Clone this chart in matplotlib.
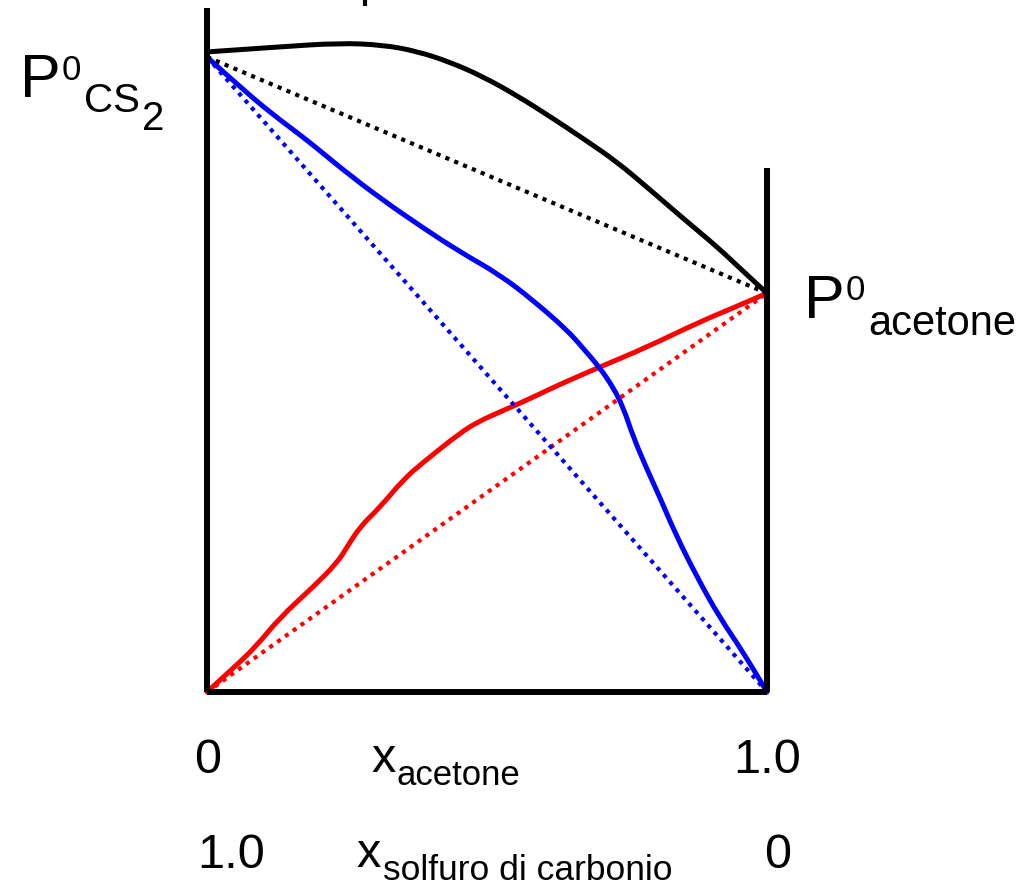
import matplotlib
matplotlib.use("Agg")
import matplotlib.pyplot as plt
from matplotlib.path import Path
from matplotlib.patches import PathPatch

plt.rcParams['font.family'] = ['Liberation Sans', 'DejaVu Sans']

# vapour pressures of the pure liquids (P0_CS2 taken as 1)
P_CS2 = 1.0
P_ACETONE = 0.628

# mole fraction of acetone
x_total = [0.0, 0.13, 0.237, 0.314, 0.375, 0.434, 0.493, 0.554, 0.613, 0.671, 0.732, 0.791, 0.85, 0.911, 0.952, 1.0]
p_total = [1.008, 1.016, 1.022, 1.019, 1.009, 0.992, 0.969, 0.939, 0.906, 0.872, 0.835, 0.791, 0.746, 0.701, 0.667, 0.628]

x_cs2 = [0.0, 0.071, 0.13, 0.179, 0.239, 0.31, 0.384, 0.45, 0.523, 0.582, 0.643, 0.671, 0.702, 0.725, 0.743, 0.761, 0.786, 0.809, 0.836, 0.875, 0.915, 0.955, 1.0]
p_cs2 = [1.0, 0.943, 0.901, 0.869, 0.825, 0.777, 0.732, 0.694, 0.657, 0.617, 0.570, 0.542, 0.510, 0.480, 0.449, 0.402, 0.350, 0.306, 0.250, 0.181, 0.118, 0.066, 0.0]

x_acet = [0.0, 0.045, 0.087, 0.13, 0.189, 0.232, 0.25, 0.273, 0.309, 0.35, 0.385, 0.452, 0.485, 0.523, 0.567, 0.617, 0.66, 0.702, 0.783, 0.88, 0.94, 1.0]
p_acet = [0.0, 0.036, 0.071, 0.117, 0.165, 0.203, 0.228, 0.260, 0.291, 0.334, 0.361, 0.408, 0.426, 0.441, 0.458, 0.479, 0.496, 0.512, 0.542, 0.583, 0.605, 0.628]

W, H = 1027, 886
fig = plt.figure(figsize=(W / 100, H / 100), dpi=100)
ax = fig.add_axes([207 / W, (H - 692) / H, 560 / W, 692 / H])
ax.set_xlim(0, 1)
ax.set_ylim(0, 692 / 635)
ax.axis('off')

dot = (0, (1, 1.3))


def smooth_curve(xs, ys, color):
    # quadratic b-spline through the read points, drawn as one path
    verts = [(xs[0], ys[0])]
    codes = [Path.MOVETO]
    for i in range(1, len(xs) - 1):
        verts.append((xs[i], ys[i]))
        verts.append(((xs[i] + xs[i + 1]) / 2, (ys[i] + ys[i + 1]) / 2))
        codes += [Path.CURVE3, Path.CURVE3]
    verts.append((xs[-1], ys[-1]))
    codes.append(Path.LINETO)
    patch = PathPatch(Path(verts, codes), facecolor='none', edgecolor=color,
                      lw=3.6, clip_on=False, capstyle='round', joinstyle='round')
    ax.add_patch(patch)


# Raoult lines (ideal behaviour) and real curves
ax.plot([0, 1], [0, P_ACETONE], color='red', lw=3, linestyle=dot, clip_on=False)
smooth_curve(x_acet, p_acet, 'red')
ax.plot([0, 1], [P_CS2, 0], color='blue', lw=3, linestyle=dot, clip_on=False)
smooth_curve(x_cs2, p_cs2, 'blue')
ax.plot([0, 1], [P_CS2, P_ACETONE], color='black', lw=3, linestyle=dot, clip_on=False)
smooth_curve(x_total, p_total, 'black')

# frame
ax.plot([0, 0], [0, 1.077], color='black', lw=4.3, clip_on=False, solid_capstyle='butt')
ax.plot([1, 1], [0, 0.825], color='black', lw=4.3, clip_on=False, solid_capstyle='butt')
ax.plot([0, 1], [0, 0], color='black', lw=4.3, clip_on=False, solid_capstyle='butt')
# small mark cut by the top edge
ax.plot([0.282, 0.282], [1.080, 1.095], color='black', lw=3, clip_on=False, solid_capstyle='butt')


def label(x, y, s, size, ha='left'):
    fig.text(x / W, 1 - y / H, s, fontsize=size, ha=ha, va='baseline')


# P0 CS2
label(20, 97, 'P', 44)
label(62, 80, '0', 25)
label(84, 112, 'CS', 29)
label(142, 130, '2', 29)

# P0 acetone
label(804, 318, 'P', 44)
label(846, 300, '0', 25)
label(868, 335, 'acetone', 30)

# x axis labels
label(208, 773, '0', 35, ha='center')
label(371, 772, 'x', 35)
label(397, 785, 'acetone', 25)
label(767, 773, '1.0', 35, ha='center')

label(231, 868, '1.0', 35, ha='center')
label(356, 867, 'x', 35)
label(383, 880, 'solfuro di carbonio', 25.5)
label(778, 868, '0', 35, ha='center')

fig.savefig('out.png', dpi=100)
